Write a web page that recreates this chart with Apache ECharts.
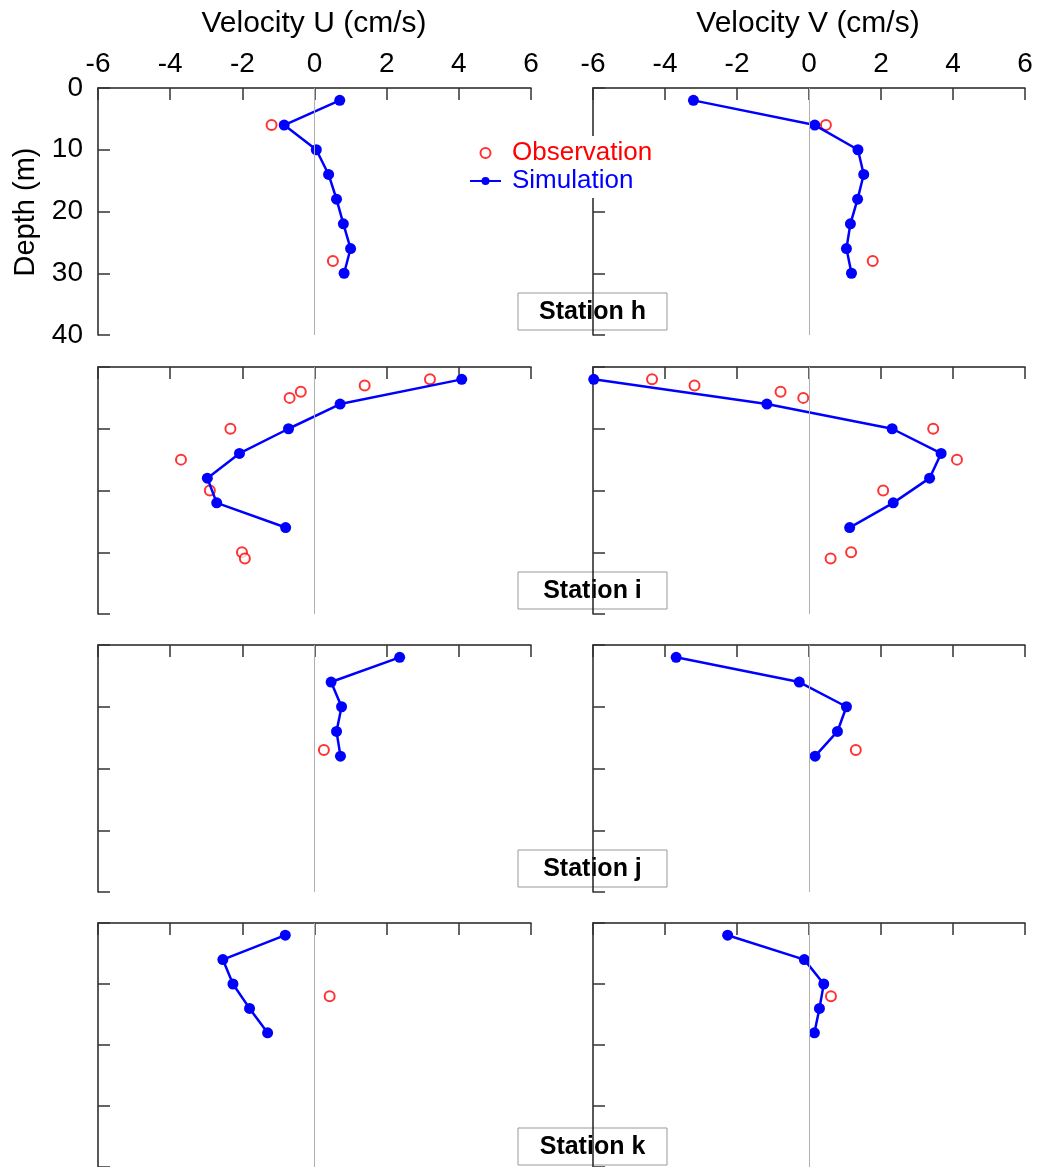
<!DOCTYPE html>
<html>
<head>
<meta charset="utf-8">
<script src="https://cdn.jsdelivr.net/npm/echarts@6/dist/echarts.min.js"></script>
<style>
html, body { margin: 0; padding: 0; background: #fff; }
#main { width: 1038px; height: 1167px; }
</style>
</head>
<body>
<div id="main"></div>
<script>
// station names, top to bottom
var stations = ['Station h', 'Station i', 'Station j', 'Station k'];
var uTicks = ['-6', '-4', '-2', '0', '2', '4', '6'];
var depthTicks = ['0', '10', '20', '30', '40'];

// Station h
var simDepthH = [2, 6, 10, 14, 18, 22, 26, 30];
var simUH = [0.70, -0.84, 0.05, 0.39, 0.61, 0.80, 1.00, 0.82];
var simVH = [-3.21, 0.16, 1.36, 1.52, 1.35, 1.15, 1.04, 1.18];
var obsDepthH = [6, 28];
var obsUH = [-1.19, 0.51];
var obsVH = [0.47, 1.77];

// Station i
var simDepthI = [2, 6, 10, 14, 18, 22, 26];
var simUI = [4.08, 0.71, -0.72, -2.08, -2.97, -2.71, -0.80];
var simVI = [-5.98, -1.17, 2.31, 3.67, 3.35, 2.34, 1.13];
var obsDepthI = [2, 3, 4, 5, 10, 15, 20, 30, 31];
var obsUI = [3.20, 1.39, -0.38, -0.69, -2.33, -3.70, -2.90, -2.01, -1.93];
var obsVI = [-4.36, -3.18, -0.79, -0.16, 3.45, 4.11, 2.06, 1.17, 0.60];

// Station j
var simDepthJ = [2, 6, 10, 14, 18];
var simUJ = [2.36, 0.46, 0.75, 0.61, 0.72];
var simVJ = [-3.69, -0.27, 1.04, 0.79, 0.17];
var obsDepthJ = [17];
var obsUJ = [0.26];
var obsVJ = [1.30];

// Station k
var simDepthK = [2, 6, 10, 14, 18];
var simUK = [-0.81, -2.54, -2.26, -1.80, -1.30];
var simVK = [-2.26, -0.13, 0.41, 0.29, 0.15];
var obsDepthK = [12];
var obsUK = [0.42];
var obsVK = [0.61];

var panels = [
  { sd: simDepthH, su: simUH, sv: simVH, od: obsDepthH, ou: obsUH, ov: obsVH },
  { sd: simDepthI, su: simUI, sv: simVI, od: obsDepthI, ou: obsUI, ov: obsVI },
  { sd: simDepthJ, su: simUJ, sv: simVJ, od: obsDepthJ, ou: obsUJ, ov: obsVJ },
  { sd: simDepthK, su: simUK, sv: simVK, od: obsDepthK, ou: obsUK, ov: obsVK }
];

var FONT = "'Liberation Sans', Arial, sans-serif";
var rowTops = [88, 367, 645, 923];
var colLefts = [98, 593];
var colWidths = [433, 432];
var panelH = 247;

function pairs(xs, ds) {
  return xs.map(function (x, i) { return [x, ds[i]]; });
}

var chart = echarts.init(document.getElementById('main'));

var grids = [], xAxes = [], yAxes = [], series = [], graphics = [];

rowTops.forEach(function (top, r) {
  for (var c = 0; c < 2; c++) {
    var idx = grids.length;
    grids.push({ left: colLefts[c], top: top, width: colWidths[c], height: panelH });
    xAxes.push({
      gridIndex: idx, type: 'value', position: 'top',
      min: -6, max: 6, interval: 2,
      axisLine: { show: true, onZero: false, lineStyle: { color: '#222', width: 1.5 } },
      axisTick: { show: true, inside: true, length: 12, lineStyle: { color: '#333', width: 1.5 } },
      axisLabel: {
        show: r === 0, margin: 10, color: '#000', fontSize: 28, fontFamily: FONT,
        formatter: function (v) { return uTicks[(v + 6) / 2]; }
      },
      splitLine: { show: false }
    });
    yAxes.push({
      gridIndex: idx, type: 'value', inverse: true,
      min: 0, max: 40, interval: 10,
      axisLine: { show: true, onZero: false, lineStyle: { color: '#222', width: 1.5 } },
      axisTick: { show: true, inside: true, length: 12, lineStyle: { color: '#333', width: 1.5 } },
      axisLabel: {
        show: r === 0 && c === 0, margin: 15, color: '#000', fontSize: 28, fontFamily: FONT,
        formatter: function (v) { return depthTicks[v / 10]; }
      },
      splitLine: { show: false }
    });

    var p = panels[r];
    var obsX = c === 0 ? p.ou : p.ov;
    var simX = c === 0 ? p.su : p.sv;

    series.push({
      name: 'Observation', type: 'scatter',
      xAxisIndex: idx, yAxisIndex: idx,
      symbol: 'emptyCircle', symbolSize: 10,
      itemStyle: { color: '#ff0000', borderColor: '#ff0000', borderWidth: 1 },
      data: pairs(obsX, p.od),
      markLine: {
        silent: true, symbol: ['none', 'none'],
        label: { show: false },
        lineStyle: { color: '#b0b0b0', width: 1, type: 'solid' },
        data: [{ xAxis: 0 }]
      },
      z: 3
    });
    series.push({
      name: 'Simulation', type: 'line',
      xAxisIndex: idx, yAxisIndex: idx,
      symbol: 'circle', symbolSize: 11, showSymbol: true,
      lineStyle: { color: '#0000ff', width: 2.5 },
      itemStyle: { color: '#0000ff' },
      data: pairs(simX, p.sd),
      z: 4
    });
  }

  // station label box
  graphics.push({
    type: 'group', z: 100,
    children: [
      {
        type: 'rect',
        shape: { x: 518, y: top + 205, width: 149, height: 37 },
        style: { fill: '#fff', stroke: '#999', lineWidth: 1 }
      },
      {
        type: 'text', x: 592.5, y: top + 224,
        style: {
          text: stations[r], fill: '#000', font: 'bold 25px ' + FONT,
          textAlign: 'center', textVerticalAlign: 'middle'
        }
      }
    ]
  });
});

// axis titles
graphics.push({
  type: 'text', x: 314, y: 24, z: 100,
  style: { text: 'Velocity U (cm/s)', fill: '#000', font: '30px ' + FONT, textAlign: 'center', textVerticalAlign: 'middle' }
});
graphics.push({
  type: 'text', x: 808, y: 24, z: 100,
  style: { text: 'Velocity V (cm/s)', fill: '#000', font: '30px ' + FONT, textAlign: 'center', textVerticalAlign: 'middle' }
});
graphics.push({
  type: 'text', x: 26, y: 212, z: 100, rotation: Math.PI / 2,
  style: { text: 'Depth (m)', fill: '#000', font: '29px ' + FONT, textAlign: 'center', textVerticalAlign: 'middle' }
});

option = {
  animation: false,
  backgroundColor: '#fff',
  grid: grids,
  xAxis: xAxes,
  yAxis: yAxes,
  legend: {
    orient: 'vertical',
    left: 464, top: 136,
    padding: [4, 6, 4, 5],
    itemGap: 2,
    itemWidth: 31, itemHeight: 10,
    selectedMode: false,
    backgroundColor: '#fff',
    z: 50,
    textStyle: { fontSize: 26, fontFamily: FONT, padding: [0, 0, 0, 6] },
    data: [
      { name: 'Observation', textStyle: { color: '#ff0000' } },
      { name: 'Simulation', textStyle: { color: '#0000ff' } }
    ]
  },
  graphic: graphics,
  series: series
};

chart.setOption(option);
</script>
</body>
</html>
